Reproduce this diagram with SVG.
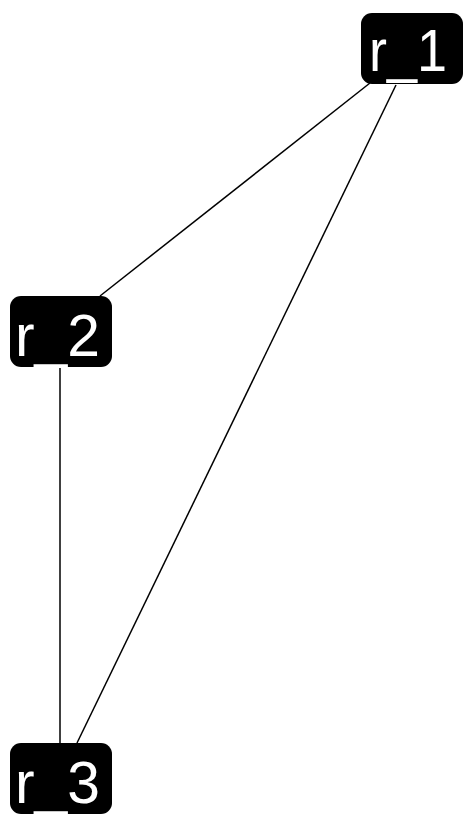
<svg xmlns="http://www.w3.org/2000/svg" width="466" height="817" viewBox="0 0 466 817">
<style>
.box{fill:#000}
.lbl{fill:#fff;font-family:"Gill Sans","Liberation Sans",Arial,sans-serif;font-size:60px}
.edge{stroke:#000;stroke-width:1.5;fill:none}
</style>
<rect width="466" height="817" fill="#fff"/>
<g id="edges">
<line class="edge" x1="370" y1="83" x2="100" y2="296"/>
<line class="edge" x1="396" y1="85" x2="77" y2="743"/>
<line class="edge" x1="60" y1="366" x2="60" y2="743"/>
</g>
<g id="r_1">
<rect class="box" x="361" y="13" width="102" height="71" rx="11"/>
<text class="lbl" x="369" y="71" textLength="78" lengthAdjust="spacingAndGlyphs">r_1</text>
</g>
<g id="r_2">
<rect class="box" x="10" y="296" width="102" height="71" rx="11"/>
<text class="lbl" x="15" y="356" textLength="85" lengthAdjust="spacingAndGlyphs">r_2</text>
</g>
<g id="r_3">
<rect class="box" x="10" y="743" width="102" height="71" rx="11"/>
<text class="lbl" x="15" y="803" textLength="85" lengthAdjust="spacingAndGlyphs">r_3</text>
</g>
</svg>
